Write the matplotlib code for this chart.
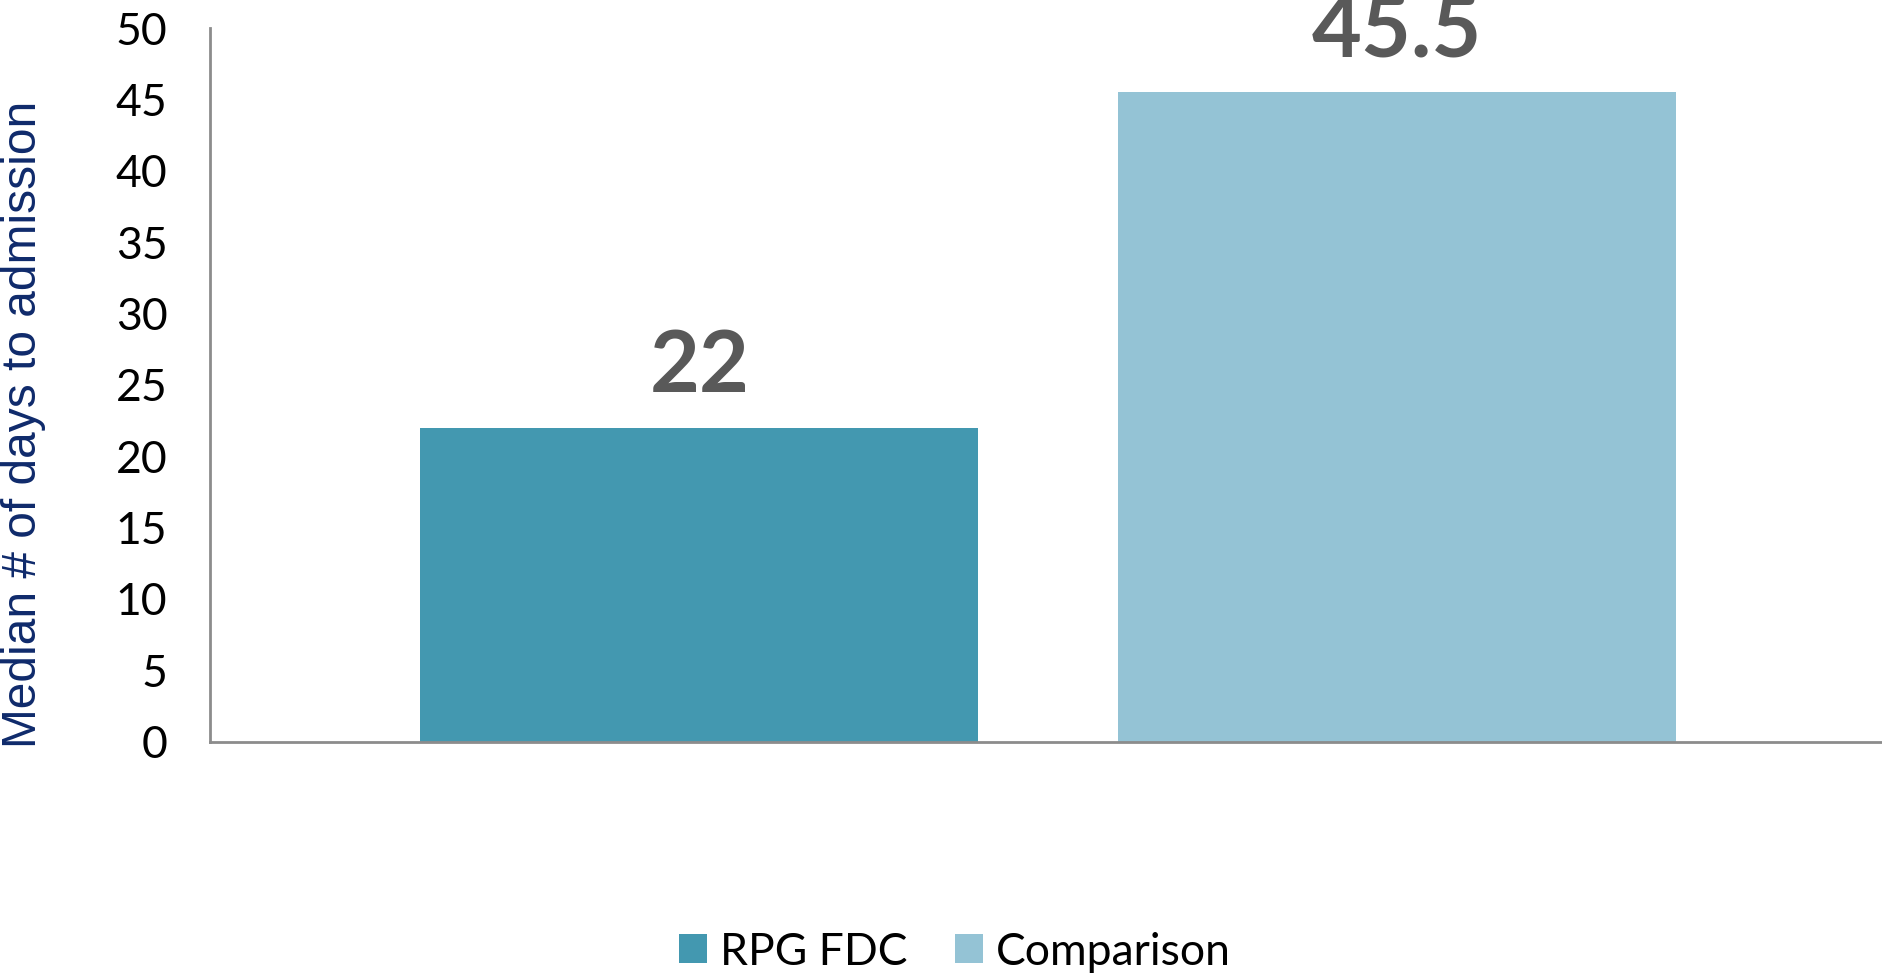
import matplotlib
matplotlib.use("Agg")
import matplotlib.pyplot as plt
from matplotlib.patches import Patch

categories = ["RPG FDC", "Comparison"]
values = [22, 45.5]
value_labels = ["22", "45.5"]
colors = ["#4398B0", "#94C3D5"]
yticks = [0, 5, 10, 15, 20, 25, 30, 35, 40, 45, 50]
ylabel = "Median # of days to admission"

W, H = 1883, 980
fig = plt.figure(figsize=(W / 100, H / 100), dpi=100)
ax = fig.add_axes([210.5 / W, 1 - 741.7 / H, (W - 210.5) / W, (741.7 - 28) / H])

x = list(range(len(categories)))
ax.bar(x, values, width=0.80, color=colors, zorder=2)
ax.set_xlim(-0.701, 1.697)
ax.set_ylim(0, 50)
ax.set_yticks(yticks)
ax.set_yticklabels([str(t) for t in yticks], fontfamily="Lato", fontsize=32, color="black")
ax.tick_params(axis="y", length=0, pad=31)
ax.set_xticks([])

for s in ["top", "right"]:
    ax.spines[s].set_visible(False)
for s in ["left", "bottom"]:
    ax.spines[s].set_color("#8C8C8C")
    ax.spines[s].set_linewidth(2)

for xi, v, lab in zip(x, values, value_labels):
    ax.annotate(lab, (xi, v), xytext=(0, 15), textcoords="offset points",
                ha="center", va="bottom", fontfamily="Lato", fontweight="bold",
                fontsize=62, color="#595959", clip_on=False)

fig.text(24 / W, 1 - 424 / H, ylabel, rotation=90, ha="center", va="center",
         fontfamily="Liberation Sans", fontsize=34.5, color="#0F2A6B")

handles = [Patch(facecolor=c, edgecolor="none") for c in colors]
fig.legend(handles, categories, loc="center", bbox_to_anchor=(955 / W, 1 - 952 / H),
           ncol=2, frameon=False, prop={"family": "Lato", "size": 32},
           handlelength=0.63, handleheight=0.63, handletextpad=0.3, columnspacing=1.05)

fig.savefig("out.png", dpi=100)
